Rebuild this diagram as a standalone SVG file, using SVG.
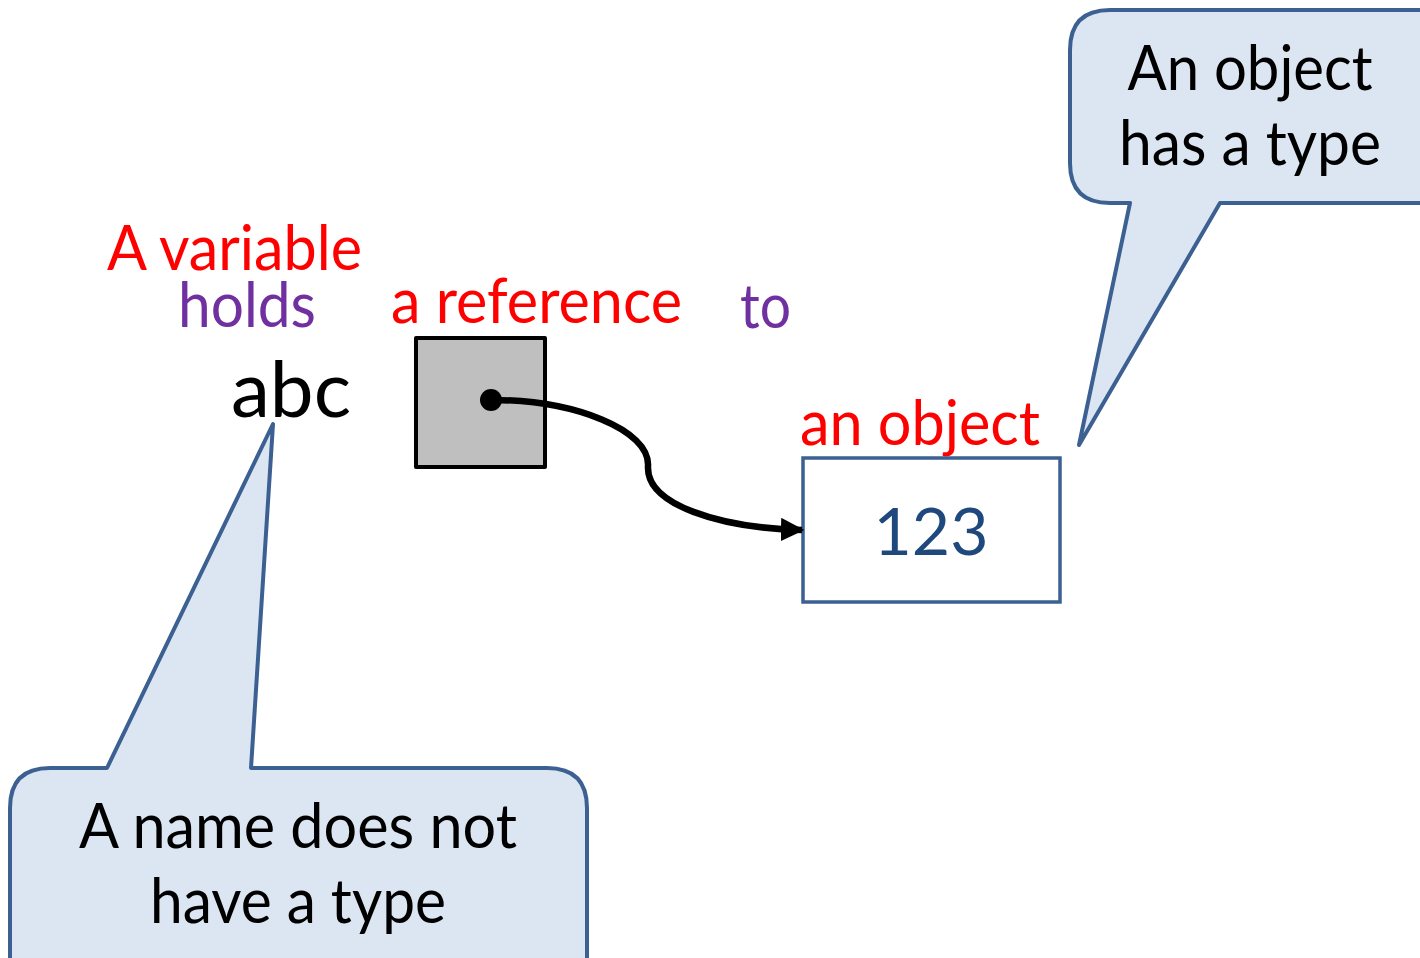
<svg xmlns="http://www.w3.org/2000/svg" width="1420" height="958" viewBox="0 0 1420 958">
<style>
text{font-family:"Lato","Open Sans","Liberation Sans",sans-serif;font-size:61px}
.red{fill:#FF0000}
.pur{fill:#7030A0}
.blk{fill:#000}
.callout{fill:#DCE6F2;stroke:#3B6091;stroke-width:4;stroke-linejoin:round}
</style>
<defs>
<marker id="arr" viewBox="0 0 10 10" refX="9" refY="5" markerWidth="3.6" markerHeight="3.6" markerUnits="strokeWidth" orient="auto">
<path d="M0,0 L10,5 L0,10 Z" fill="#000"/>
</marker>
</defs>
<rect width="1420" height="958" fill="#fff"/>

<g id="label-variable">
<text class="red" x="107" y="270" textLength="255" lengthAdjust="spacingAndGlyphs">A variable</text>
</g>
<g id="label-holds">
<text class="pur" x="178" y="327" textLength="138" lengthAdjust="spacingAndGlyphs">holds</text>
</g>
<g id="label-reference">
<text class="red" x="391" y="323" textLength="291" lengthAdjust="spacingAndGlyphs">a reference</text>
</g>
<g id="label-to">
<text class="pur" x="740" y="328" textLength="51" lengthAdjust="spacingAndGlyphs">to</text>
</g>
<g id="label-object">
<text class="red" x="800" y="445" textLength="240" lengthAdjust="spacingAndGlyphs">an object</text>
</g>
<g id="name-abc">
<text class="blk" x="231" y="417" style="font-size:78px" textLength="120" lengthAdjust="spacingAndGlyphs">abc</text>
</g>

<g id="ref-box">
<rect x="416" y="338" width="129" height="129" fill="#BFBFBF" stroke="#000" stroke-width="4" stroke-linejoin="round"/>
</g>

<g id="object-box">
<rect x="803" y="458" width="257" height="144" fill="#fff" stroke="#3B6091" stroke-width="3.5"/>
<text x="931" y="555" text-anchor="middle" style="font-size:66px;fill:#1F497D">123</text>
</g>

<g id="connectors">
<circle cx="491" cy="400" r="11" fill="#000"/>
<path d="M491,400 C575,400 650,430 648,466 C646,505 720,528 802,530" fill="none" stroke="#000" stroke-width="6.5" marker-end="url(#arr)"/>
</g>

<g id="callout-object">
<path class="callout" d="M1110,10 L1440,10 L1440,203 L1220,203 L1079,445 L1130,203 L1110,203 Q1070,203 1070,163 L1070,50 Q1070,10 1110,10 Z"/>
<text class="blk" x="1250" y="90" text-anchor="middle" textLength="245" lengthAdjust="spacingAndGlyphs">An object</text>
<text class="blk" x="1250" y="165" text-anchor="middle" textLength="262" lengthAdjust="spacingAndGlyphs">has a type</text>
</g>

<g id="callout-name">
<path class="callout" d="M50,768 L107,768 L273,424 L251,768 L547,768 Q587,768 587,808 L587,990 L10,990 L10,808 Q10,768 50,768 Z"/>
<text class="blk" x="298" y="848" text-anchor="middle" textLength="438" lengthAdjust="spacingAndGlyphs">A name does not</text>
<text class="blk" x="298" y="923" text-anchor="middle" textLength="296" lengthAdjust="spacingAndGlyphs">have a type</text>
</g>
</svg>
